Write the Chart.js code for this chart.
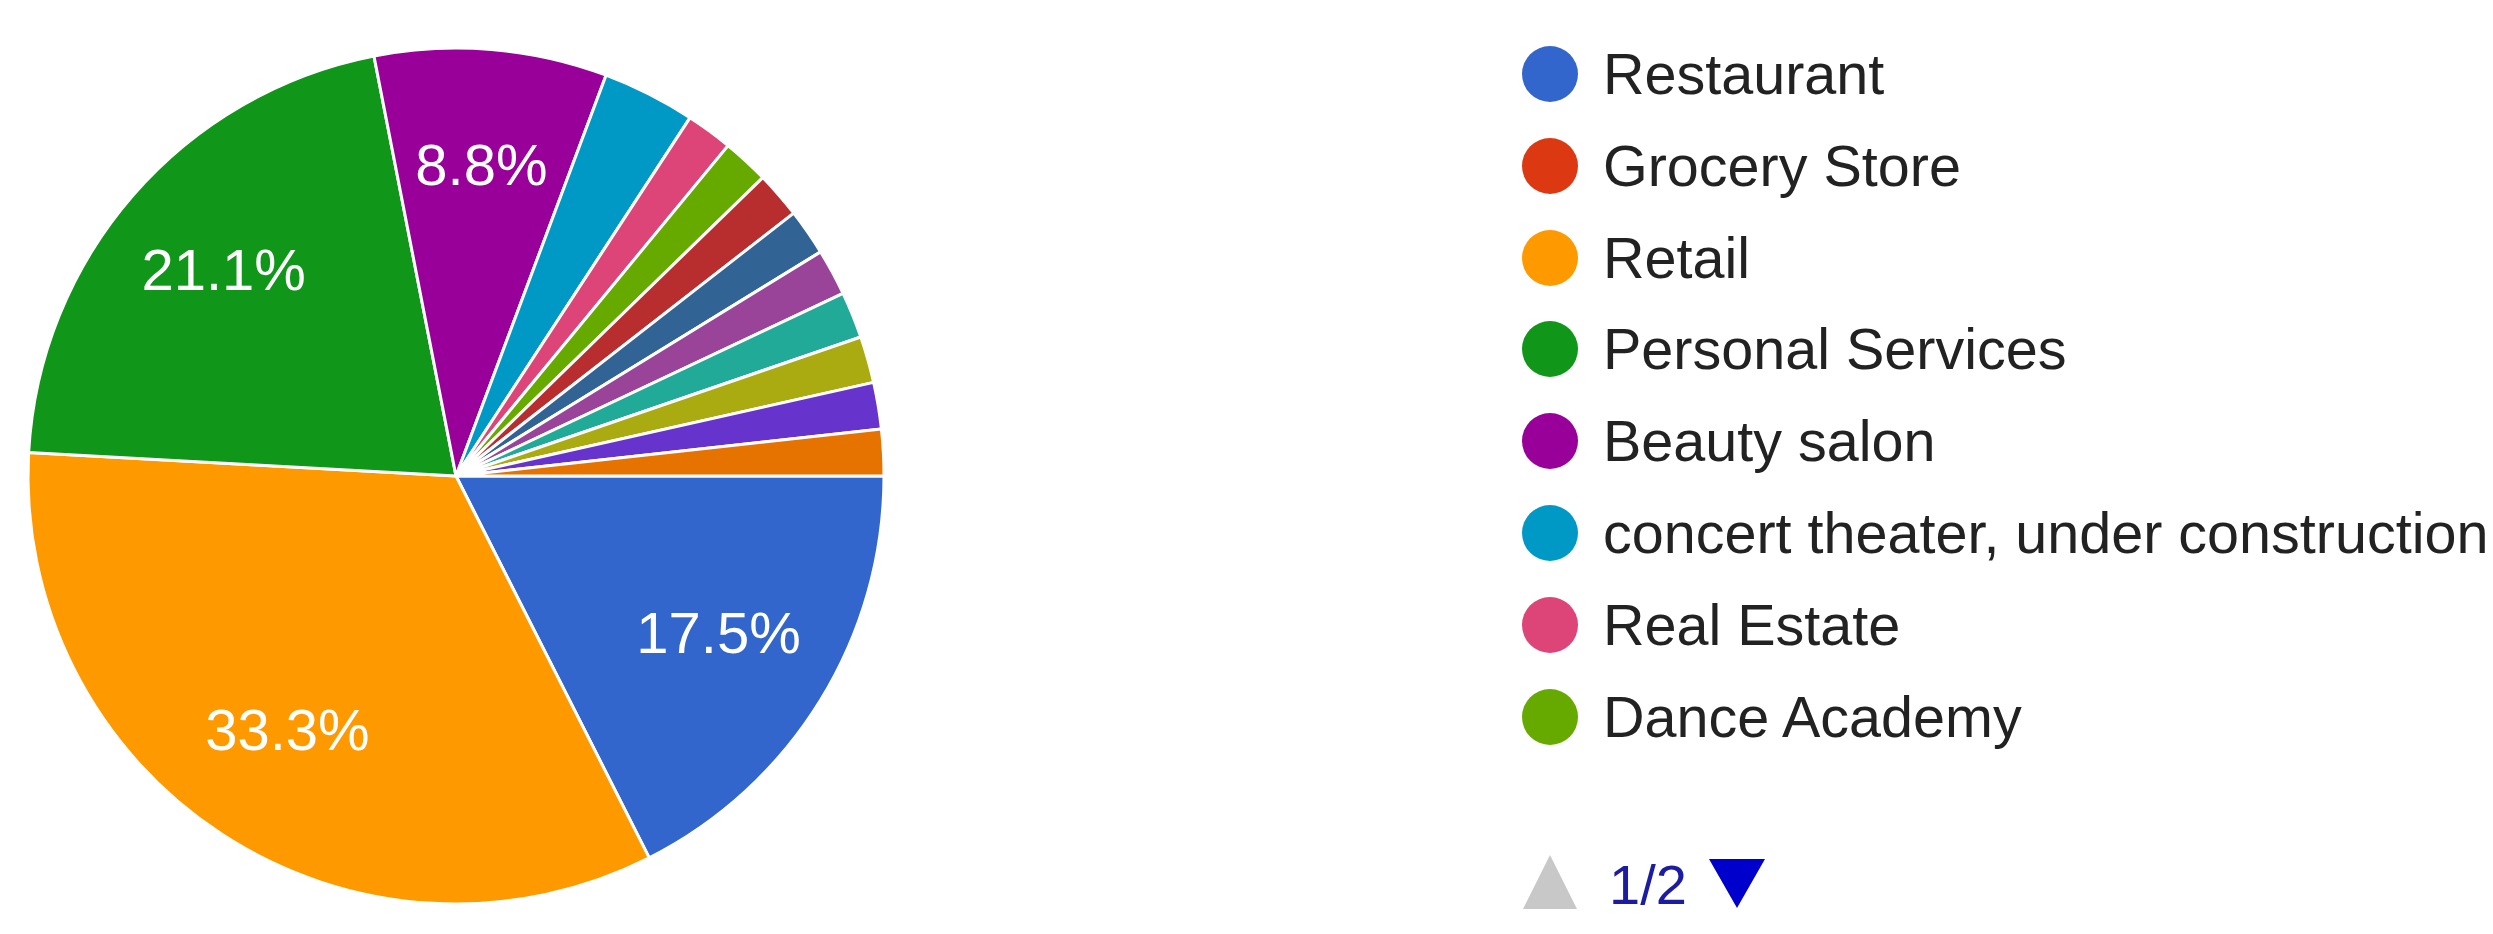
<!DOCTYPE html>
<html>
<head>
<meta charset="utf-8">
<title>Business type</title>
<script src="https://cdn.jsdelivr.net/npm/chart.js@4.4.1/dist/chart.umd.min.js"></script>
<style>
  html, body { margin: 0; padding: 0; background: #fff; }
  #wrap { position: relative; width: 2493px; height: 934px; overflow: hidden; }
  #pie { position: absolute; left: 0; top: 0; }
  .legend-row {
    position: absolute; left: 1522px; height: 80px;
    display: flex; align-items: center;
    font-family: "Liberation Sans", Arial, sans-serif; font-size: 57.5px; color: #222;
    white-space: nowrap;
  }
  .dot { width: 56px; height: 56px; border-radius: 50%; margin-right: 25px; flex: none; }
  .pager-up {
    position: absolute; left: 1523px; top: 855px; width: 54px; height: 54px;
    background: #c8c8c8; clip-path: polygon(50% 0, 100% 100%, 0 100%);
  }
  .pager-text {
    position: absolute; left: 1609px; top: 857px; line-height: 1;
    font-family: "Liberation Sans", Arial, sans-serif; font-size: 56px; color: #1c1ca3;
  }
  .pager-down {
    position: absolute; left: 1709px; top: 859px; width: 56px; height: 49px;
    background: #0000cc; clip-path: polygon(0 0, 100% 0, 50% 100%);
  }
</style>
</head>
<body>
<div id="wrap">
  <canvas id="pie" width="2493" height="934"></canvas>
  <div id="legend"></div>
</div>
<script>
// Answer categories, in form order
const categories = [
  'Restaurant', 'Grocery Store', 'Retail', 'Personal Services', 'Beauty salon',
  'concert theater, under construction', 'Real Estate', 'Dance Academy',
  'Category 9', 'Category 10', 'Category 11', 'Category 12',
  'Category 13', 'Category 14', 'Category 15'
];
// Number of responses per category (57 in total)
const responses = [10, 0, 19, 12, 5, 2, 1, 1, 1, 1, 1, 1, 1, 1, 1];
// Slice colours
const sliceColors = [
  '#3366cc', '#dc3912', '#ff9900', '#109618', '#990099',
  '#0099c6', '#dd4477', '#66aa00', '#b82e2e', '#316395',
  '#994499', '#22aa99', '#aaaa11', '#6633cc', '#e67300'
];
// Legend paging
const legendPageSize = 8;
const legendPageLabel = '1/2';

const total = responses.reduce((a, b) => a + b, 0);

// Percentage text inside the larger slices
const percentLabels = {
  id: 'percentLabels',
  afterDatasetsDraw(chart) {
    const { ctx } = chart;
    const meta = chart.getDatasetMeta(0);
    ctx.save();
    ctx.fillStyle = '#ffffff';
    ctx.font = '58px "Liberation Sans", Arial, sans-serif';
    ctx.textAlign = 'center';
    ctx.textBaseline = 'middle';
    meta.data.forEach((arc, i) => {
      const share = responses[i] / total;
      if (share < 0.05) return;
      const p = arc.getProps(['x', 'y', 'startAngle', 'endAngle', 'outerRadius'], true);
      const mid = (p.startAngle + p.endAngle) / 2;
      const r = p.outerRadius * 0.72;
      ctx.fillText((share * 100).toFixed(1) + '%', p.x + Math.cos(mid) * r, p.y + Math.sin(mid) * r);
    });
    ctx.restore();
  }
};

new Chart(document.getElementById('pie'), {
  type: 'pie',
  data: {
    labels: categories,
    datasets: [{
      data: responses,
      backgroundColor: sliceColors,
      borderColor: '#ffffff',
      borderWidth: 3
    }]
  },
  options: {
    responsive: false,
    animation: false,
    rotation: 90,
    radius: 428,
    layout: { padding: { left: 29, right: 1610, top: 49, bottom: 31 } },
    plugins: {
      legend: { display: false },
      tooltip: { enabled: false }
    }
  },
  plugins: [percentLabels]
});

// Legend (first page)
const legend = document.getElementById('legend');
categories.slice(0, legendPageSize).forEach((name, i) => {
  const row = document.createElement('div');
  row.className = 'legend-row';
  row.style.top = (74 + i * 91.8 - 40) + 'px';
  const dot = document.createElement('span');
  dot.className = 'dot';
  dot.style.background = sliceColors[i];
  const label = document.createElement('span');
  label.textContent = name;
  row.appendChild(dot);
  row.appendChild(label);
  legend.appendChild(row);
});
const up = document.createElement('div');
up.className = 'pager-up';
const pageText = document.createElement('div');
pageText.className = 'pager-text';
pageText.textContent = legendPageLabel;
const down = document.createElement('div');
down.className = 'pager-down';
legend.appendChild(up);
legend.appendChild(pageText);
legend.appendChild(down);
</script>
</body>
</html>
